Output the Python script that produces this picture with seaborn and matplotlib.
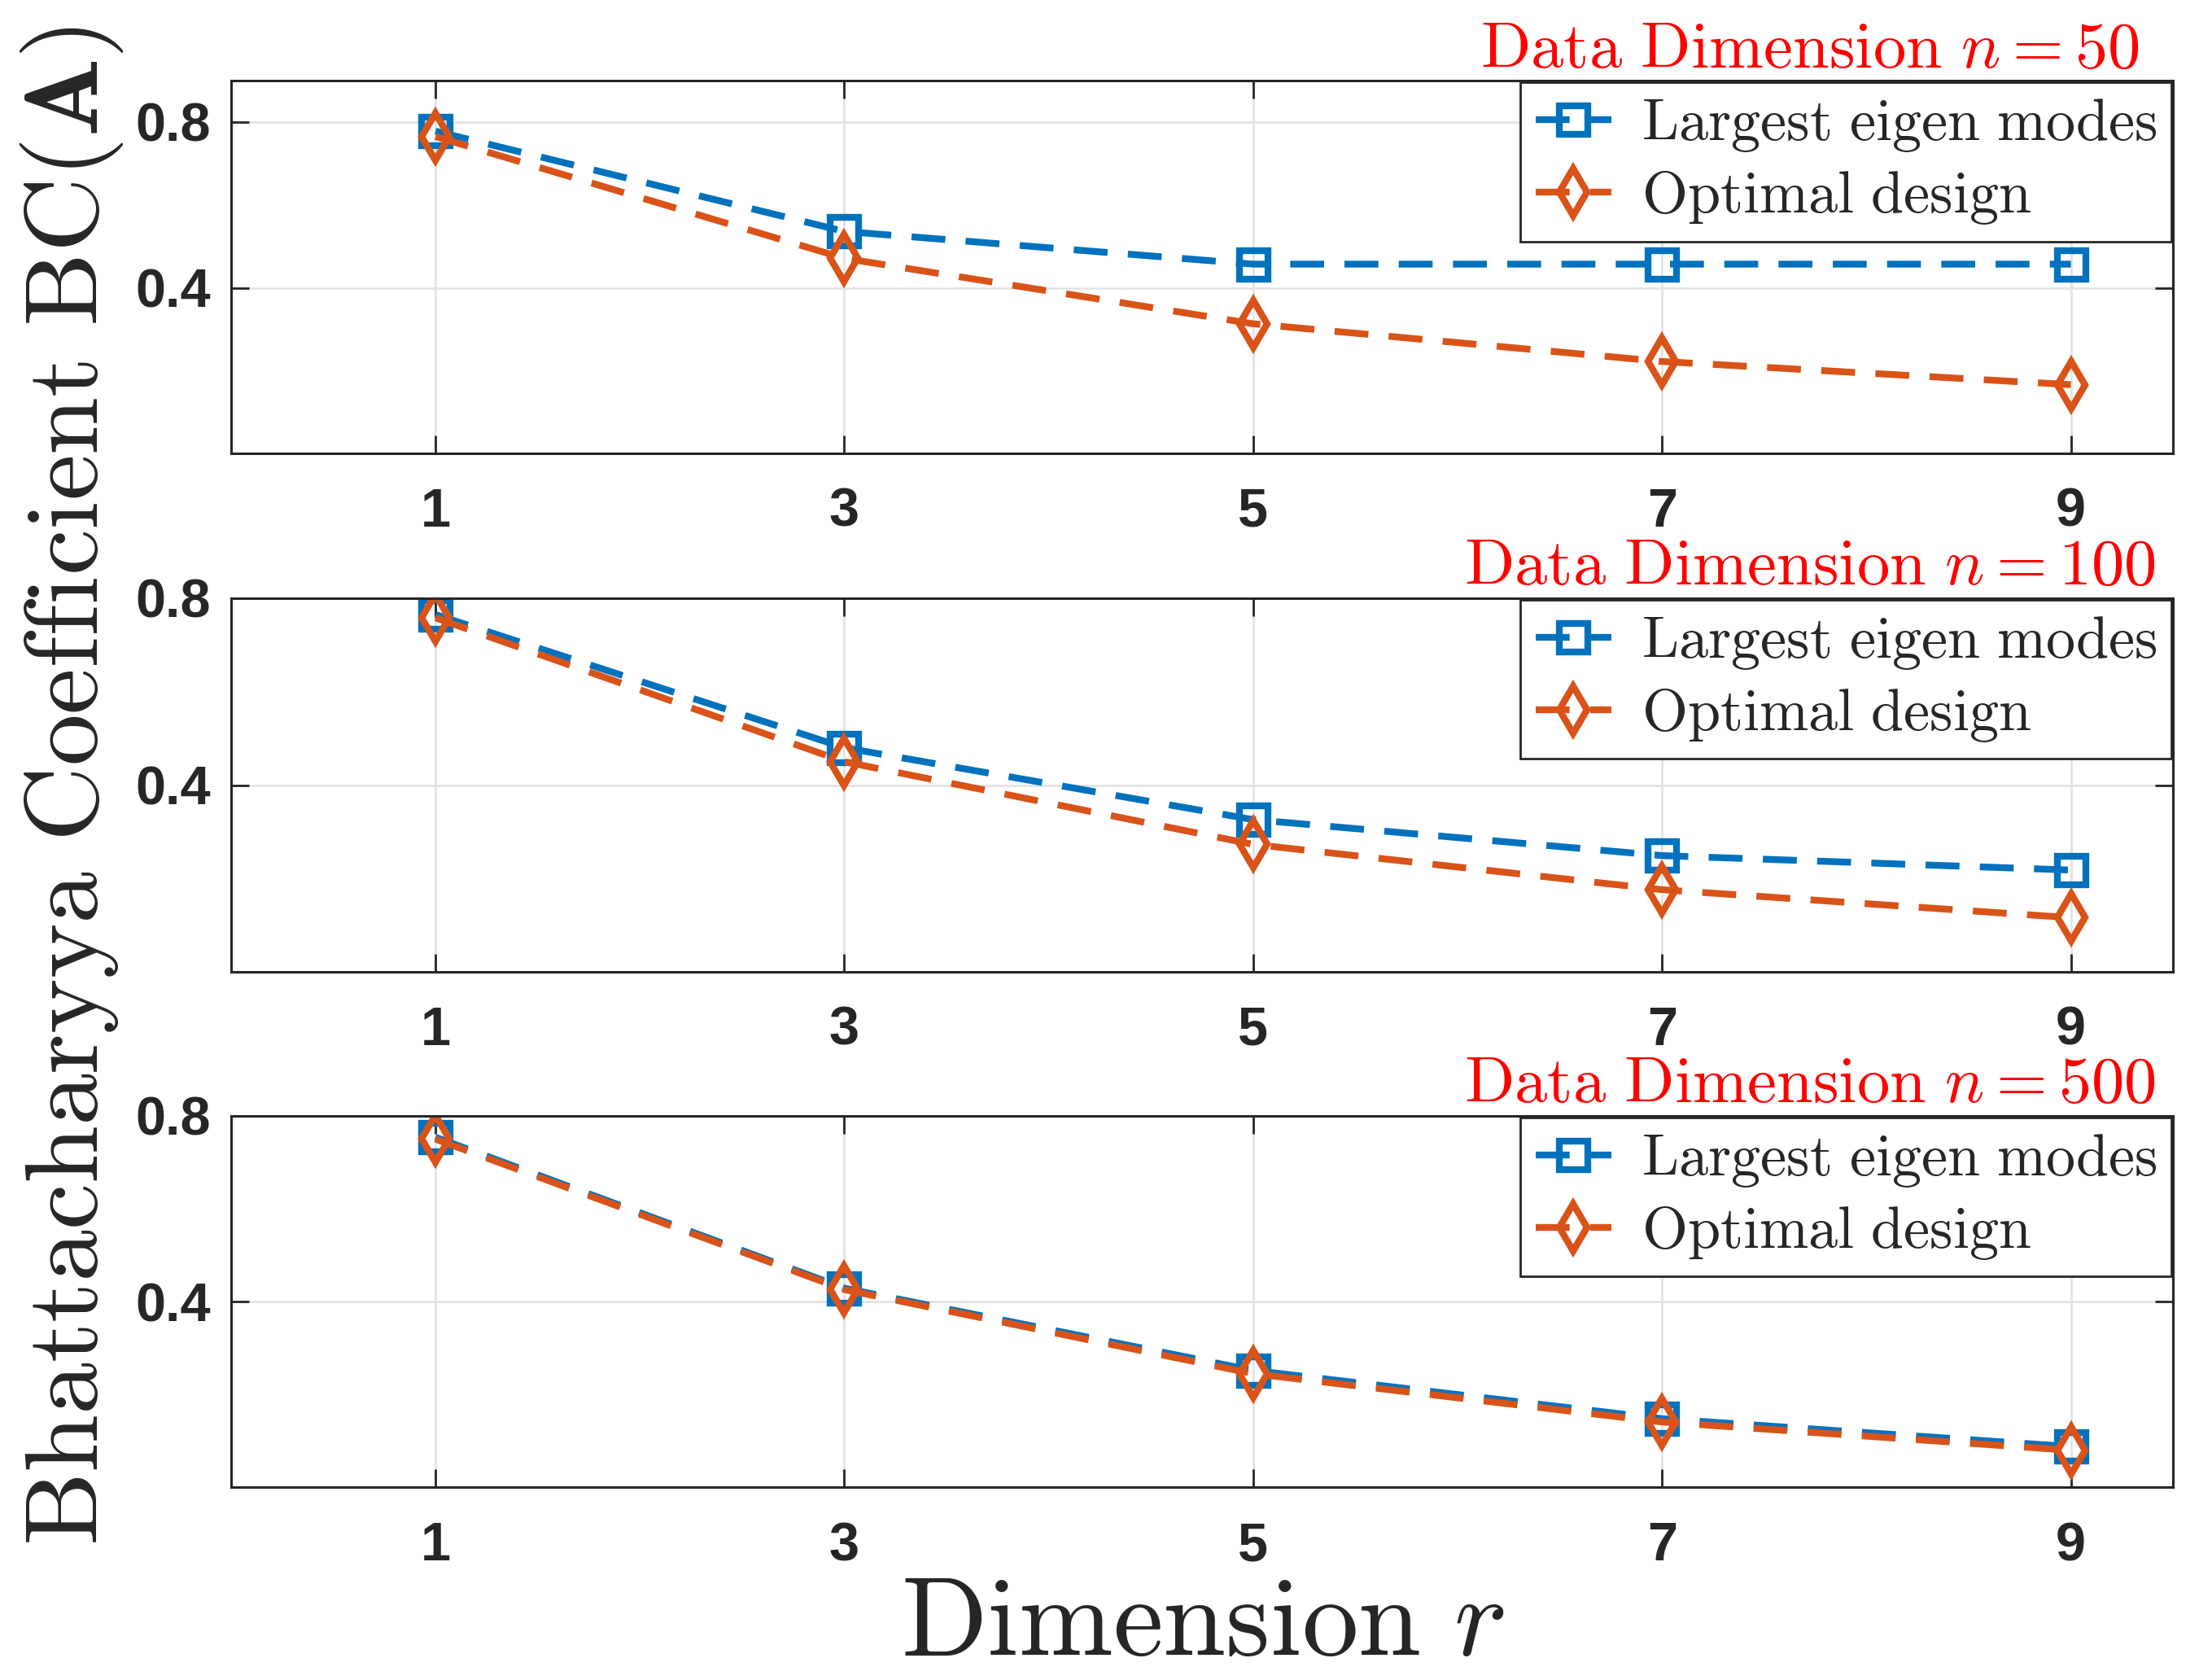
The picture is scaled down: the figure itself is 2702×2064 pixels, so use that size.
import matplotlib
matplotlib.use("Agg")
import matplotlib.pyplot as plt
import seaborn as sns
import numpy as np

# dimension r on the x axis
r_vals = [1, 3, 5, 7, 9]

# Bhattacharyya coefficient
bc_eig_50 = [0.778, 0.536, 0.457, 0.457, 0.457]
bc_opt_50 = [0.765, 0.471, 0.313, 0.222, 0.166]
bc_eig_100 = [0.765, 0.480, 0.326, 0.249, 0.218]
bc_opt_100 = [0.758, 0.450, 0.273, 0.176, 0.116]
bc_eig_500 = [0.754, 0.429, 0.252, 0.148, 0.088]
bc_opt_500 = [0.750, 0.426, 0.245, 0.141, 0.080]

data_dims = [50, 100, 500]
ylims = [0.9, 0.8, 0.8]
yticks = [0.4, 0.8]
series_names = ["Largest eigen modes", "Optimal design"]

blue = "#0072BD"
orange = "#D95319"

sns.set_theme(style="ticks")
plt.rcParams["font.family"] = ["Liberation Sans Narrow", "Liberation Sans", "DejaVu Sans"]
plt.rcParams["mathtext.fontset"] = "cm"

fig = plt.figure(figsize=(13.51, 10.32), dpi=200)

ax_pos = [
    [0.1051, 0.7301, 0.8831, 0.2219],
    [0.1051, 0.4215, 0.8831, 0.2224],
    [0.1051, 0.1146, 0.8831, 0.2212],
]
eig_all = [bc_eig_50, bc_eig_100, bc_eig_500]
opt_all = [bc_opt_50, bc_opt_100, bc_opt_500]

for i in range(3):
    ax = fig.add_axes(ax_pos[i])
    sns.lineplot(x=r_vals, y=eig_all[i], ax=ax, color=blue, marker="s",
                 markersize=12.6, linewidth=3.0, legend=False)
    sns.lineplot(x=r_vals, y=opt_all[i], ax=ax, color=orange, marker="d",
                 markersize=14.8, linewidth=3.0, legend=False)
    lines = ax.get_lines()
    for ln, col, nm in zip(lines, [blue, orange], series_names):
        ln.set_dashes((5.0, 3.0))
        ln.set_markerfacecolor("none")
        ln.set_markeredgecolor(col)
        ln.set_markeredgewidth(3.0)
        ln.set_label(r"$\mathrm{" + nm.replace(" ", r"\ ") + "}$")

    ax.set_xlim(0, 9.5)
    ax.set_ylim(0, ylims[i])
    ax.set_xticks(r_vals)
    ax.set_yticks(yticks)
    ax.set_xticklabels([str(v) for v in r_vals])
    ax.set_yticklabels(["0.4", "0.8"])
    ax.grid(True, color="#e3e3e3", linewidth=1.0)
    ax.set_axisbelow(True)
    for sp in ax.spines.values():
        sp.set_visible(True)
        sp.set_color("#262626")
        sp.set_linewidth(1.1)
    ax.tick_params(axis="both", direction="in", length=8, width=1.0,
                   color="#262626", top=True, right=True,
                   labelsize=24, labelcolor="#262626")
    ax.tick_params(axis="x", pad=15)
    ax.tick_params(axis="y", pad=9)
    for lab in ax.get_xticklabels() + ax.get_yticklabels():
        lab.set_fontweight("bold")
    ax.set_xlabel("")
    ax.set_ylabel("")

    ax.text(0.813, 1.036, r"$\mathrm{Data\ Dimension}\ n = %d$" % data_dims[i],
            transform=ax.transAxes, ha="center", va="baseline",
            color="red", fontsize=29)

    leg = ax.legend(handles=lines[:2], loc="upper right",
                    bbox_to_anchor=(0.999, 0.995), borderaxespad=0,
                    fontsize=26, frameon=True, fancybox=False,
                    handlelength=1.3, handletextpad=0.5, labelspacing=0.25,
                    borderpad=0.25)
    leg.get_frame().set_edgecolor("#262626")
    leg.get_frame().set_linewidth(1.0)
    leg.get_frame().set_alpha(1)

fig.text(0.0326, 0.532,
         r"$\mathrm{Bhattacharyya\ Coefficient\ BC}(\mathbf{A})$",
         rotation=90, ha="center", va="center", fontsize=46, color="#262626")
fig.text(0.547, 0.015, r"$\mathrm{Dimension}\ r$", ha="center",
         va="baseline", fontsize=50, color="#262626")

fig.savefig("out.png", dpi=200)
